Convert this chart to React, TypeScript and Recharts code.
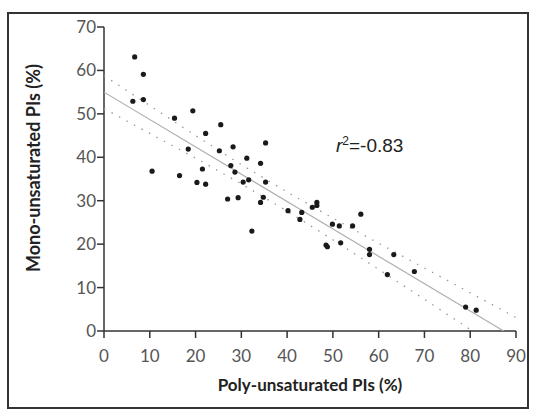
import { ScatterChart, Scatter, XAxis, YAxis } from "recharts"

// points
const polyPct = [
    6.7, 8.6, 6.3, 8.6, 15.4, 19.4, 22.2, 25.5, 18.4, 25.2,
    28.2, 31.2, 34.2, 27.7, 28.6, 21.5, 10.5, 16.5, 20.3, 22.2,
    31.6, 30.4, 27.0, 29.3, 35.3, 35.3, 34.8, 34.2, 32.3, 40.2,
    43.2, 42.8, 45.5, 46.5, 46.5, 56.1, 49.9, 51.4, 54.3, 48.5,
    48.8, 51.7, 58.0, 58.0, 63.3, 61.9, 67.8, 79.0, 81.3,
]
const monoPct = [
    63.1, 59.1, 52.9, 53.3, 49.0, 50.7, 45.5, 47.5, 41.9, 41.5,
    42.4, 39.8, 38.6, 38.1, 36.6, 37.3, 36.8, 35.8, 34.2, 33.8,
    34.8, 34.3, 30.4, 30.7, 43.3, 34.3, 30.8, 29.6, 23.0, 27.7,
    27.3, 25.7, 28.5, 29.6, 28.9, 26.9, 24.6, 24.2, 24.2, 19.8,
    19.4, 20.3, 18.8, 17.6, 17.6, 13.0, 13.7, 5.5, 4.8,
]

// regression line and its dotted band
const fitX = [0, 87.3]
const fitY = [55, 0]
const bandX = [0, 10, 20, 30, 40, 50, 60, 70, 80, 90]
const bandUpper = [58.8, 51.9, 45.0, 38.3, 32.0, 26.0, 20.2, 14.5, 8.8, 3.1]
const bandLowerX = [0, 10, 20, 30, 40, 50, 60, 70, 80.5]
const bandLower = [51.2, 45.5, 39.8, 33.9, 27.6, 21.0, 14.2, 7.3, 0]

const xTicks = [0, 10, 20, 30, 40, 50, 60, 70, 80, 90]
const yTicks = [0, 10, 20, 30, 40, 50, 60, 70]

const points = polyPct.map((x, i) => ({ x, y: monoPct[i] }))
const fit = fitX.map((x, i) => ({ x, y: fitY[i] }))
const upper = bandX.map((x, i) => ({ x, y: bandUpper[i] }))
const lower = bandLowerX.map((x, i) => ({ x, y: bandLower[i] }))

const tickStyle = { fill: "#555", fontSize: 17, fontFamily: "Lato, sans-serif" }
const noShape = () => <g />
const dot = (props: any) => <circle cx={props.cx} cy={props.cy} r={2.6} fill="#1a1a1a" />

export default function App() {
    return (
        <div style={{ position: "fixed", left: 0, top: 0, width: 536, height: 416, background: "#fff" }}>
            <div style={{ position: "absolute", left: 7, top: 12, width: 522, height: 397, border: "2px solid #333", boxSizing: "border-box" }} />
            <ScatterChart
                width={536}
                height={416}
                margin={{ top: 27, right: 20, bottom: 55, left: 64 }}
                style={{ position: "absolute", left: 0, top: 0 }}
            >
                <XAxis
                    type="number"
                    dataKey="x"
                    domain={[0, 90]}
                    ticks={xTicks}
                    height={30}
                    tick={tickStyle}
                    tickSize={7}
                    tickMargin={12}
                    stroke="#333"
                    strokeWidth={1.5}
                    allowDataOverflow
                />
                <XAxis xAxisId="top" orientation="top" type="number" domain={[0, 90]} height={0} tick={false} tickLine={false} stroke="#333" strokeWidth={1.5} />
                <YAxis
                    type="number"
                    dataKey="y"
                    domain={[0, 70]}
                    ticks={yTicks}
                    width={40}
                    tick={tickStyle}
                    tickSize={7}
                    tickMargin={1}
                    stroke="#333"
                    strokeWidth={1.5}
                    allowDataOverflow
                />
                <YAxis yAxisId="right" orientation="right" type="number" domain={[0, 70]} width={0} tick={false} tickLine={false} stroke="#333" strokeWidth={1.5} />
                <Scatter data={upper} line={{ stroke: "#999", strokeWidth: 1.3, strokeDasharray: "1.5 7" }} shape={noShape} isAnimationActive={false} />
                <Scatter data={lower} line={{ stroke: "#999", strokeWidth: 1.3, strokeDasharray: "1.5 7" }} shape={noShape} isAnimationActive={false} />
                <Scatter data={fit} line={{ stroke: "#b0b0b0", strokeWidth: 1.2 }} shape={noShape} isAnimationActive={false} />
                <Scatter data={points} shape={dot} isAnimationActive={false} />
            </ScatterChart>
            <div style={{ position: "absolute", left: 0, width: 536, top: 0 }}>
                <div style={{ position: "absolute", left: 310, top: 374, transform: "translateX(-50%)", whiteSpace: "nowrap", fontFamily: "Lato, sans-serif", fontWeight: 700, fontSize: 17, color: "#222" }}>
                    Poly-unsaturated PIs (%)
                </div>
                <div style={{ position: "absolute", left: 33, top: 168, transform: "translate(-50%, -50%) rotate(-90deg)", whiteSpace: "nowrap", fontFamily: "Lato, sans-serif", fontWeight: 700, fontSize: 18, color: "#222" }}>
                    Mono-unsaturated PIs (%)
                </div>
                <div style={{ position: "absolute", left: 336, top: 134, whiteSpace: "nowrap", fontFamily: "'Liberation Sans', Arial, sans-serif", fontSize: 19, color: "#222" }}>
                    <i>r</i><sup style={{ fontSize: 12 }}>2</sup>=-0.83
                </div>
            </div>
        </div>
    )
}
